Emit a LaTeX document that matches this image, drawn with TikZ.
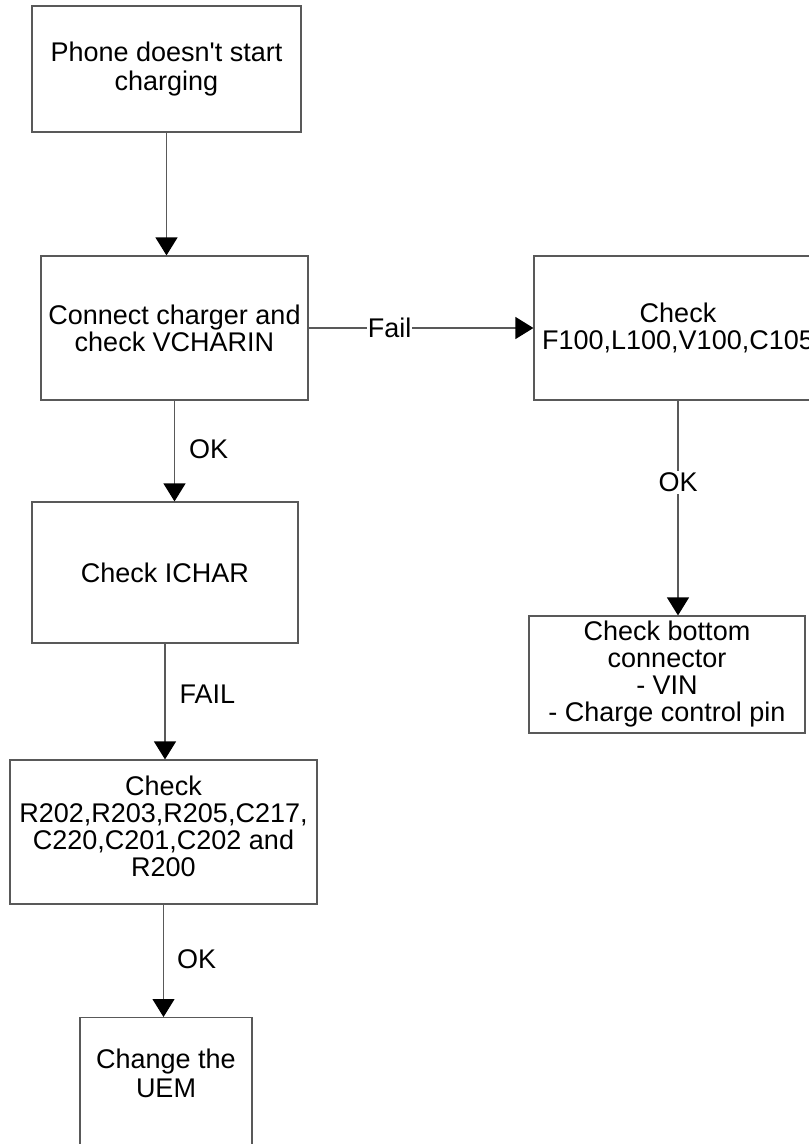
\documentclass[tikz,border=0pt]{standalone}
\usepackage{fontspec}
\setmainfont{Liberation Sans}
\usetikzlibrary{arrows.meta,positioning}

\tikzset{
  box/.style={draw=black!65, line width=1.2pt, align=center, inner sep=0pt,
    font=\fontsize{27}{27}\selectfont},
  flow/.style={draw=black!65, line width=1.2pt,
    -{Triangle[length=18pt,width=22pt,color=black]}},
  tag/.style={inner sep=1pt, align=center, font=\fontsize{27}{27}\selectfont},
}

\begin{document}
\begin{tikzpicture} [x=1pt,y=-1pt]
 \useasboundingbox (0,0) rectangle (809,1144);
 \clip (0,0) rectangle (809,1144);
 \node [box, minimum width=269pt, minimum height=126pt] (start) at (166.5,69) {Phone doesn\textquotesingle t start\\[2pt]charging};
 \node [box, minimum width=267pt, minimum height=144pt] (charger) at (174.5,328) {Connect charger and\\check VCHARIN};
 \node [box, minimum width=288pt, minimum height=144pt] (fuse) at (678,328) {Check\\F100,L100,V100,C105};
 \node [box, minimum width=276pt, minimum height=117pt] (bottom) at (667,674.5) {Check bottom\\connector\\- VIN\\- Charge control pin};
 \node [box, minimum width=266pt, minimum height=141pt] (ichar) at (165,572.5) {Check ICHAR};
 \node [box, minimum width=307pt, minimum height=144pt] (parts) at (163.5,832) {Check\\R202,R203,R205,C217,\\C220,C201,C202 and\\R200\\[-16pt]};
 \node [box, minimum width=172pt, minimum height=160pt, anchor=north] (uem) at (166,1017) {};
 \node [tag] (uemtext) at (166,1073) {Change the\\[2pt]UEM};

 \draw [flow] (start.south) -- (start.south |- charger.north);
 \draw [flow] (charger.east) -- node [tag, fill=white, pos=0.36] (fail) {Fail} (fuse.west);
 \draw [flow] (fuse.south) -- node [tag, fill=white, inner sep=2pt, pos=0.38] (okfuse) {OK} (fuse.south |- bottom.north);
 \draw [flow] (charger.south) -- node [tag, right=13pt, pos=0.48] (okcharger) {OK} (charger.south |- ichar.north);
 \draw [flow] (ichar.south) -- node [tag, right=13pt, pos=0.44] (failichar) {FAIL} (ichar.south |- parts.north);
 \draw [flow] (parts.south) -- node [tag, right=12pt, pos=0.49] (okparts) {OK} (parts.south |- uem.north);
\end{tikzpicture}
\end{document}
